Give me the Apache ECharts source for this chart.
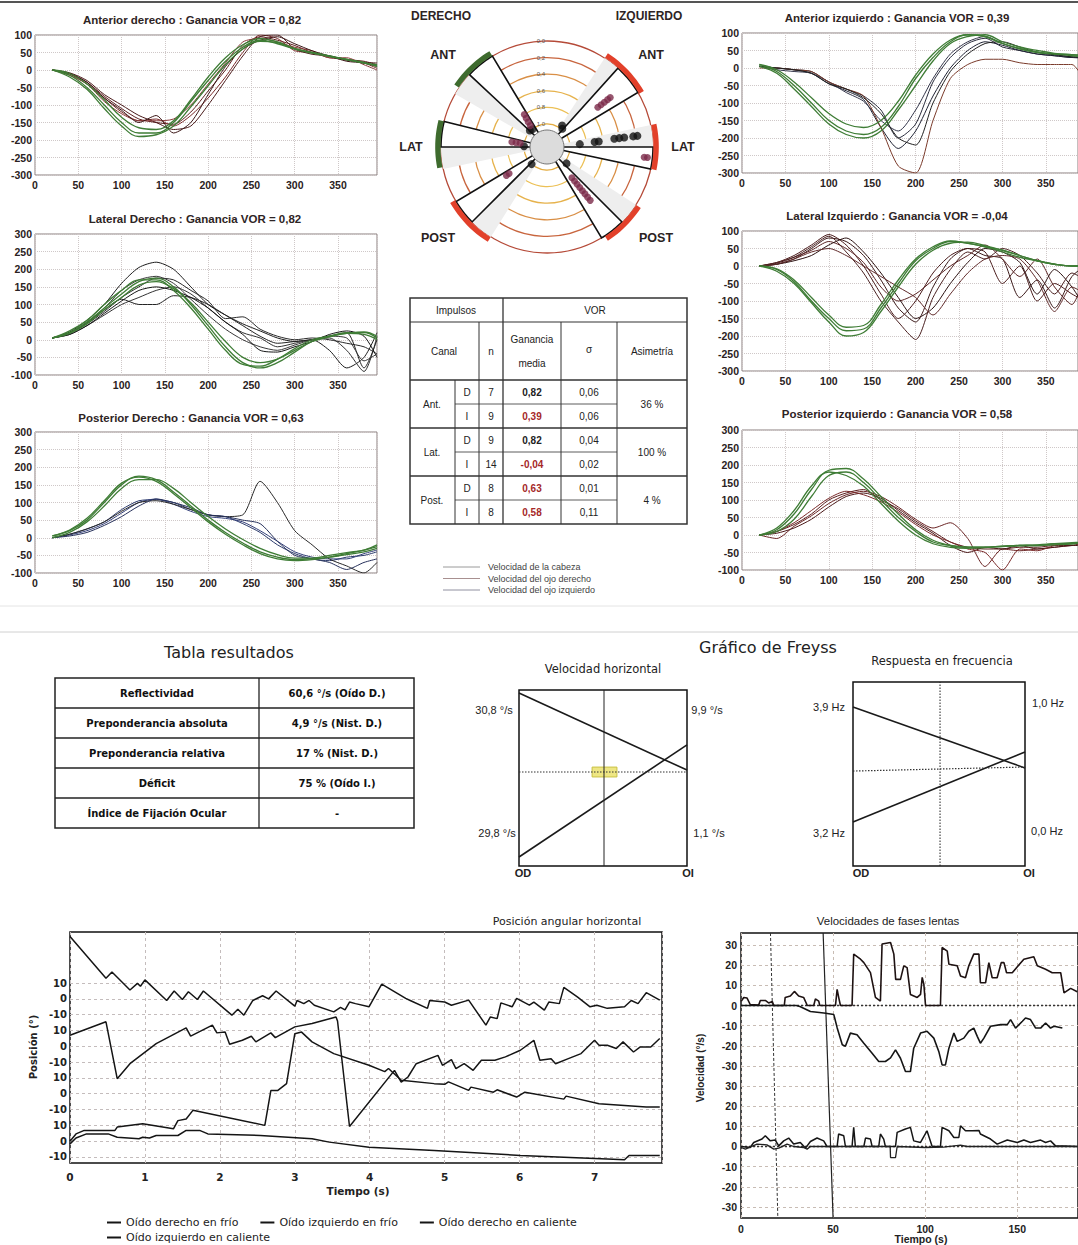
<!DOCTYPE html>
<html><head><meta charset="utf-8">
<script src="https://cdn.jsdelivr.net/npm/echarts@6/dist/echarts.min.js"></script>
<style>html,body{margin:0;padding:0;background:#fff}#c{width:1078px;height:1245px}</style>
</head><body><div id="c"></div><script>
// ---------------- DATA ----------------
const TX = [20,40,60,80,100,120,140,160,180,200,220,240,260,280,300,320,340,360,380,395];

const A_head = [
 [0,-15,-50,-100,-150,-180,-180,-150,-90,-30,25,65,85,75,60,50,40,30,20,15],
 [0,-10,-40,-85,-135,-165,-170,-145,-85,-20,35,72,90,80,62,50,40,30,22,10],
 [0,-20,-55,-110,-160,-190,-185,-160,-105,-45,15,60,82,78,60,48,38,30,20,12]];
const A_eye = [
 [0,-10,-35,-75,-110,-140,-150,-155,-120,-60,0,70,95,85,70,50,40,30,25,15],
 [0,-12,-40,-80,-120,-145,-140,-160,-130,-80,-20,50,100,90,55,50,35,30,20,5],
 [0,-8,-30,-70,-100,-130,-150,-170,-160,-100,-30,40,95,100,60,45,40,28,22,20],
 [0,-15,-40,-90,-125,-145,-145,-140,-100,-40,20,80,90,80,65,55,35,35,15,0],
 [0,-10,-35,-80,-115,-150,-130,-180,-150,-70,10,60,85,95,75,55,40,25,20,10]];

const B_head = [
 [5,20,50,90,130,165,175,150,100,40,-20,-65,-80,-65,-35,-5,10,20,20,5],
 [5,25,55,100,140,170,170,140,90,30,-30,-70,-75,-55,-25,0,10,18,22,10],
 [5,18,45,85,120,155,165,145,105,50,-5,-50,-65,-55,-30,-5,8,18,15,0]];
const B_eye = [
 [5,22,55,100,160,205,220,200,150,100,70,45,25,5,-5,0,-30,-80,-50,20],
 [5,20,45,80,120,150,175,170,140,110,60,65,30,10,0,5,0,-10,-20,-40],
 [5,15,40,70,100,120,140,150,130,90,50,20,5,-20,-10,0,5,-30,-90,10],
 [5,18,48,85,115,100,100,125,120,100,70,40,10,-10,-5,0,10,20,-80,0],
 [5,20,50,90,140,170,180,160,115,70,30,0,-20,-30,-15,0,10,5,-60,-40],
 [5,15,40,75,110,140,150,140,120,90,50,15,-30,-35,-20,-5,15,25,10,-50]];

const C_head = [
 [5,20,50,100,150,175,165,130,90,50,15,-15,-40,-55,-62,-60,-55,-45,-35,-25],
 [5,22,55,105,155,172,160,125,85,45,10,-20,-45,-60,-65,-62,-55,-48,-40,-30],
 [0,15,45,90,140,165,165,140,100,60,25,-5,-30,-48,-58,-58,-50,-42,-35,-20]];
const C_eye = [
 [0,10,25,45,80,105,108,100,80,65,60,40,15,-20,-45,-60,-65,-55,-50,-40],
 [0,8,20,40,70,100,110,95,75,60,55,45,20,-10,-40,-55,-60,-60,-45,-35],
 [0,10,25,45,75,100,105,95,80,65,60,65,160,100,20,-20,-60,-80,-100,-70],
 [0,5,15,35,60,90,110,100,85,65,60,50,40,-10,-50,-60,-70,-90,-70,-60]];

const D_head = [
 [10,-10,-50,-100,-150,-180,-190,-170,-110,-30,30,75,95,90,70,55,45,40,38,36],
 [10,-5,-40,-85,-130,-160,-170,-150,-95,-20,40,80,95,90,70,55,45,40,35,32],
 [5,-15,-60,-110,-160,-190,-200,-180,-120,-50,20,70,90,95,75,60,50,42,38,35]];
const D_eye = [
 [5,0,-5,-10,-40,-60,-80,-120,-200,-160,-40,30,70,85,60,50,40,35,30,28],
 [5,0,-5,-15,-45,-65,-90,-170,-230,-180,-80,0,50,75,65,50,40,35,30,30],
 [5,-5,-10,-15,-40,-70,-95,-150,-180,-120,-30,40,75,90,70,55,45,38,32,30],
 [0,0,-5,-10,-40,-60,-80,-170,-280,-300,-150,-30,10,25,25,15,10,10,10,-40],
 [5,0,-5,-15,-45,-60,-85,-130,-200,-220,-100,-10,40,70,75,60,45,38,32,30]];

const E_head = [
 [0,-10,-45,-100,-150,-185,-180,-120,-50,15,50,70,65,55,45,30,15,5,0,0],
 [0,-15,-50,-105,-160,-200,-190,-130,-60,5,45,65,68,58,45,30,15,5,0,0],
 [0,-8,-40,-90,-140,-175,-170,-110,-40,20,55,72,65,55,40,25,15,5,0,0]];
const E_eye = [
 [0,10,30,60,90,60,0,-80,-150,-100,-20,30,50,40,-50,0,-100,-50,-80,-100],
 [0,5,20,50,80,70,30,-40,-120,-160,-60,20,50,30,20,-90,-40,-120,-30,0],
 [0,10,25,45,70,50,10,-60,-100,-80,-40,0,30,60,20,-30,20,-60,-110,-20],
 [0,5,15,30,60,80,40,-20,-90,-150,-120,-50,10,50,40,10,-80,-10,-60,-120],
 [0,8,25,55,85,40,-20,-100,-160,-210,-90,-10,40,20,50,30,-20,-80,-20,-40],
 [0,5,20,40,50,30,0,-30,-60,-90,-140,-80,-20,20,30,20,-40,-130,-60,-80]];

const F_head = [
 [0,15,60,130,185,190,160,110,60,15,-15,-30,-35,-35,-32,-30,-30,-25,-25,-22],
 [0,10,45,110,170,180,150,100,50,10,-20,-30,-35,-35,-32,-30,-28,-25,-22,-20],
 [0,20,70,140,180,170,140,90,40,0,-25,-35,-38,-36,-33,-30,-30,-28,-25,-20]];
const F_eye = [
 [0,10,30,60,100,120,130,100,75,40,10,-20,-35,-40,-40,-35,-35,-30,-30,-20],
 [0,-10,25,55,90,115,125,110,80,45,20,35,-10,-90,-40,-45,-40,-35,-30,-25],
 [0,5,20,45,80,110,120,105,70,35,5,-30,-50,-35,-40,-30,-40,-35,-30,-30],
 [0,10,35,70,105,125,115,95,65,30,0,-20,-40,-50,-100,-40,-45,-30,-25,-20]];

// polar (math degrees, counter-clockwise from +x ; gain 0..1)
const wedgeDeg = [[121,137],[166,180],[211,225],[31,48],[-12,0],[-59,-45]];
const shadeDeg = [[137,150],[180,192],[225,238],[48,57],[0,12],[-45,-33]];
const arcDeg   = [[121,146],[166,191],[210,238],[30,57],[-12,12],[-57,-33]];
const arcOk    = [true,true,false,false,false,false];
const blackDots = [[1.0,130],[0.99,136],[1.0,178],[1.0,228],[0.99,50],[0.96,55],[0.97,-40],
  [0.88,5],[0.70,6],[0.65,6],[0.46,7],[0.40,7],[0.34,7],[0.23,7],[0.18,7]];
const purpleDots = [[0.95,128],[0.9,127],[0.85,126],[0.8,125],[0.95,172],[0.9,172],[0.85,172],
  [0.72,215],[0.68,215],[0.5,38],[0.45,38],[0.4,38],[0.35,38],[0.31,38],[0.1,-6],[0.06,-6],
  [0.8,-51],[0.75,-51],[0.7,-51],[0.65,-51],[0.6,-51],[0.55,-51],[0.5,-51],[0.45,-51]];

// VOR table
const vorCanal = ['Ant.','Lat.','Post.'];
const vorSide = ['D','I','D','I','D','I'];
const vorN = ['7','9','9','14','8','8'];
const vorGain = ['0,82','0,39','0,82','-0,04','0,63','0,58'];
const vorGainRed = [false,true,false,true,true,true];
const vorSigma = ['0,06','0,06','0,04','0,02','0,01','0,11'];
const vorAsym = ['36 %','100 %','4 %'];
const legendTop = ['Velocidad de la cabeza','Velocidad del ojo derecho','Velocidad del ojo izquierdo'];

// results table
const resLabels = ['Reflectividad','Preponderancia absoluta','Preponderancia relativa','Déficit','Índice de Fijación Ocular'];
const resValues = ['60,6 °/s (Oído D.)','4,9 °/s (Nist. D.)','17 % (Nist. D.)','75 % (Oído I.)','-'];

// Freyss
const frVelLine1 = [[0,98.3],[1,54.5]];
const frVelLine2 = [[0,5.1],[1,68.8]];
const frVelMid = 53.4;
const frVelLabels = ['30,8 °/s','29,8 °/s','9,9 °/s','1,1 °/s'];
const frFreqLine1 = [[0,86.4],[1,53.3]];
const frFreqLine2 = [[0,23.9],[1,62]];
const frFreqMid = [[0,51.6],[1,53.8]];
const frFreqLabels = ['3,9 Hz','3,2 Hz','1,0 Hz','0,0 Hz'];

// Posición angular horizontal (t [s], position [deg]) ; bands offset for display
const posNames = ['Oído derecho en frío','Oído izquierdo en frío','Oído derecho en caliente','Oído izquierdo en caliente'];
const posODF = [[0,39.4],[0.48,13],[0.56,17],[0.8,5.6],[0.9,9.8],[0.94,8],[1.0,12],[1.29,-1],[1.39,5],[1.5,-0.4],[1.58,4.5],[1.7,-0.4],[1.78,5],[2.16,-10.3],[2.24,-6.5],[2.32,-10.3],[2.44,-1],[2.57,2],[2.65,0],[2.75,5],[3.0,-4.6],[3.03,-1],[3.12,-3],[3.19,-1],[3.26,-4],[3.52,-8.2],[3.61,-5.4],[3.67,-7],[3.73,-2],[3.81,-3],[3.99,-5],[4.16,9.4],[4.48,0.3],[4.54,-1],[4.77,-6],[4.8,-1],[5.0,-2],[5.09,-4],[5.32,-0.8],[5.55,-16.6],[5.61,-11.4],[5.7,-12.5],[5.75,-2.5],[5.9,-5],[5.96,0.3],[6.13,-4],[6.19,-2],[6.33,-7.1],[6.39,-2],[6.53,-3],[6.59,7.3],[6.77,1.3],[6.94,-5],[7.03,-4],[7.17,-6],[7.4,-5],[7.49,-1],[7.58,-3],[7.69,3.9],[7.87,-0.8]];
const posOIF = [[0,7],[0.48,15.5],[0.63,-20.5],[0.8,-11],[1.15,1.7],[1.55,11.7],[1.61,6.4],[1.9,13.4],[1.96,8.5],[2.07,9],[2.13,1.3],[2.3,3.8],[2.42,6.4],[2.48,2.8],[2.68,8.5],[2.74,5.5],[3.0,12.3],[3.23,14.4],[3.55,18.6],[3.57,16],[3.73,-50.7],[4.33,-15.2],[4.42,-22.6],[4.51,-19.4],[4.62,-11],[4.91,-5.7],[4.97,-12],[5.09,-8.4],[5.15,-14.1],[5.26,-11],[5.38,-15.2],[5.49,-8.8],[5.67,-8.8],[5.81,-6.7],[6.01,-2.5],[6.19,3.8],[6.27,-8.8],[6.42,-7.8],[6.48,-11],[6.65,-7.8],[6.82,-4.6],[7.0,3.8],[7.06,0.7],[7.17,0.7],[7.29,-1.4],[7.38,2.8],[7.52,-3.6],[7.61,-0.4],[7.75,-0.4],[7.87,4.9]];
const posODC = [[0,-30],[0.08,-25.4],[0.19,-23.2],[0.6,-23.2],[0.63,-21.1],[0.97,-19],[1.38,-22.2],[1.44,-17],[1.55,-16],[1.64,-10.5],[2.6,-20],[2.68,2],[2.77,2],[2.89,6.4],[3.0,38],[3.09,39],[3.23,32.8],[3.52,25.4],[3.99,18],[4.2,14],[4.25,16],[4.42,8.5],[4.86,6.4],[5.0,6],[5.05,7.5],[5.32,2.1],[5.35,4.2],[5.65,1],[5.7,2.5],[5.96,-2.1],[6.07,1],[6.59,-3.4],[6.62,-1.5],[7.06,-6.3],[7.69,-8.4],[7.87,-8.4]];
const posOIC = [[0,-1.7],[0.08,2],[0.22,4.6],[0.51,4.6],[0.63,2.5],[0.92,1.5],[0.97,2.5],[1.06,2],[1.15,3.6],[1.44,3.6],[1.55,6.8],[1.73,6.8],[1.84,4.6],[2.54,3.6],[3.23,1.5],[3.46,-0.6],[3.99,-3.8],[4.86,-5.9],[6.01,-9],[7.17,-11.2],[7.4,-11.8],[7.46,-9],[7.87,-9]];
const posTicks = [-10,0,10,20,30,40,50,60,70,80,90,100];

// Velocidades de fases lentas (t [s], v [deg/s])
const velTopPos = [[0,2],[1.5,4],[3.3,3.7],[5,0.5],[9.6,0.2],[10.5,2.5],[13.2,2.5],[15,1.3],[17,2],[17.8,0],[23.5,0],[24,4],[26.8,4.7],[29,7],[31.3,4.7],[34,4],[36,0],[39.5,0],[40.4,3.3],[42.2,2.2],[42.8,0],[51.3,0],[52.2,8],[53.1,3.8],[54,0],[60.3,0],[61.2,25.5],[64.9,23],[66.7,21.3],[70.3,16.3],[73,4],[75.7,2.2],[76.6,30.5],[81.2,31.3],[83,25.5],[84,13],[86.6,13],[88.4,19.7],[90.2,18.8],[92,5.5],[95.7,4],[97.5,5.5],[98.4,14],[99.3,10.5],[100.2,0],[108.3,0],[109.2,28.8],[112,27],[112.9,20.5],[117.4,19.7],[119.2,14.7],[121.9,13.8],[123.7,19.7],[126.4,25.5],[129.2,25.5],[130,11.3],[132.8,11.3],[134.6,21.3],[136.4,13.8],[139.1,13.8],[141.3,21.3],[142.8,21.3],[144.2,16.3],[147.3,16.3],[153.6,23],[159,24.2],[160.9,19.7],[165.4,18],[169,16.3],[173.6,16.3],[175.4,6.3],[179,8.5],[182.6,6.8]];
const velTopNeg = [[0,0],[30,0],[32,-0.5],[37.7,-3],[45,-3.7],[50.4,-4.5],[52.2,-11],[55,-19.5],[56.7,-20.2],[59.4,-13.7],[63,-14.5],[66.7,-18.7],[71.2,-23.7],[74.8,-27.8],[78.4,-27.8],[81.2,-26],[83.9,-22],[86.6,-26.2],[89.3,-32.8],[92,-32.8],[93.8,-21.2],[97.5,-13.7],[101,-12.8],[104.7,-16.2],[107.4,-22.8],[109.2,-29.5],[111,-29.5],[112.9,-21.2],[115.6,-13.7],[117.4,-17.8],[121,-16.2],[123.7,-12.8],[126.4,-11.2],[128.3,-15.3],[130,-18.7],[131.9,-16.2],[135.5,-10.3],[141,-9.5],[144.6,-9.5],[146.4,-7],[149.1,-11.2],[152.8,-7.8],[154.5,-6.2],[157.2,-7],[160,-11.2],[162.7,-11.2],[165.4,-8.7],[168.1,-11.2],[170,-10.3],[174.5,-11.2]];
const velBotA = [[0,0],[5,-0.5],[6.9,2],[11.4,3.7],[13.2,5.3],[15.9,2.8],[18.6,3.2],[20.5,0.3],[23.2,2.8],[25.9,4.2],[28.6,1.2],[32.2,2],[35,-0.8],[37.7,2.5],[41.3,4.2],[44.9,2.8],[46.7,0],[52.2,0],[53,6.2],[55.8,5.3],[56.7,0],[60.3,0],[61.2,9.5],[62.1,0],[66.7,0],[67.6,4.2],[70.3,3.7],[71.2,0],[74.8,0],[75.7,6.2],[77.5,3.7],[78.4,0],[83.9,0],[84.8,7],[89.3,8.7],[92,9.5],[93.8,2.8],[97.5,2],[101,7.8],[103.8,0],[108.3,0],[109.2,9.5],[112.9,7.8],[115.6,4.5],[118.3,4.5],[119.2,10.3],[121.9,7.8],[125.5,7.8],[129.2,8],[130,6.2],[135.5,3.7],[139.1,1.2],[144.6,3.2],[150,2],[153.6,3.2],[157.2,2],[162.7,3.2],[165.4,2],[168.1,2.8],[170.8,0.3],[175.4,0.3],[182.6,0]];
const velBotB = [[0,-0.5],[2.4,-1.3],[8.7,1.2],[14.1,0.8],[17.8,-1.3],[20.5,-0.8],[25,1.2],[28.6,0],[34,-0.5],[35.9,-1.3],[37.7,0],[81,0],[81.2,-5.5],[83.9,-5.5],[84.8,0],[100,-0.5],[110,-0.3],[119.2,0.7],[122.8,0],[182.6,0]];
const velMarkA = [[16,106],[20,-35.5]];
const velMarkB = [[44.6,106],[50,-35.5]];
const velTicks = [-30,-20,-10,0,10,20,30,40,50,60,70,80,90,100];

// ---------------- BUILD ----------------
const grids=[], xAxes=[], yAxes=[], series=[], graphics=[];
const FF = '"Liberation Sans", Arial, sans-serif';
const FV = '"DejaVu Sans", Verdana, sans-serif';
function addGrid(g, xa, ya){
  const i = grids.length;
  grids.push(g);
  xAxes.push(Object.assign({gridIndex:i}, xa));
  yAxes.push(Object.assign({gridIndex:i}, ya));
  return i;
}
function txt(x, y, s, opt){
  opt = opt || {};
  graphics.push({type:'text', x:x, y:y, rotation: opt.rotation||0, silent:true, z:100,
    style:{text:s, fill: opt.color||'#222', font: opt.font || ('11px '+FF),
      textAlign: opt.align||'center', textVerticalAlign:'middle', align: opt.align||'center', verticalAlign:'middle'}});
}
function ln(x1,y1,x2,y2,w,c){
  graphics.push({type:'line', silent:true, z:90, shape:{x1,y1,x2,y2}, style:{stroke:c||'#333', lineWidth:w||1}});
}
const zip = arr => TX.map((x,i)=>[x, arr[i]]);

const GREEN = '#3f7d36';
const topCharts = [
 {t:'Anterior derecho : Ganancia VOR = 0,82', tx:192, ty:20, g:{left:35, top:35, width:342, height:140}, ymin:-300, ymax:100, xmax:395, h:A_head, e:A_eye, ec:['#5c1e1e','#7a2a2a','#4a1a1a','#8a3a3a','#3a1515']},
 {t:'Lateral Derecho : Ganancia VOR = 0,82', tx:195, ty:219, g:{left:35, top:234, width:342, height:141}, ymin:-100, ymax:300, xmax:395, h:B_head, e:B_eye, ec:['#1c1c1c','#2a2a2a','#333','#242424','#3a3a3a','#151515']},
 {t:'Posterior Derecho : Ganancia VOR = 0,63', tx:191, ty:418, g:{left:35, top:432, width:342, height:141}, ymin:-100, ymax:300, xmax:395, h:C_head, e:C_eye, ec:['#2b3a6b','#34407a','#2a2a2a','#26305a']},
 {t:'Anterior izquierdo : Ganancia VOR = 0,39', tx:897, ty:18, g:{left:742, top:33, width:336, height:140}, ymin:-300, ymax:100, xmax:387, h:D_head, e:D_eye, ec:['#2a2c3c','#1f2233','#34364a','#7a3a2a','#202020']},
 {t:'Lateral Izquierdo : Ganancia VOR = -0,04', tx:897, ty:216, g:{left:742, top:231, width:336, height:140}, ymin:-300, ymax:100, xmax:387, h:E_head, e:E_eye, ec:['#4a1c1c','#3a1818','#5a2424','#2a1010','#4a2020','#602a2a']},
 {t:'Posterior izquierdo : Ganancia VOR = 0,58', tx:897, ty:414, g:{left:742, top:430, width:336, height:140}, ymin:-100, ymax:300, xmax:387, h:F_head, e:F_eye, ec:['#5a1e1e','#6a2424','#4a1818','#7a2a2a']}
];
topCharts.forEach(c=>{
  const gi = addGrid(Object.assign({show:true, borderColor:'#8a7f7f', borderWidth:1, backgroundColor:'#fff'}, c.g),
    {type:'value', min:0, max:c.xmax, interval:50, axisLine:{show:false}, axisTick:{show:false},
     axisLabel:{fontSize:10.5, fontWeight:'bold', color:'#2a2222', margin:4, fontFamily:FF, showMaxLabel:false},
     splitLine:{lineStyle:{type:'dotted', color:'#cfc8c8'}}},
    {type:'value', min:c.ymin, max:c.ymax, interval:50, axisLine:{show:false}, axisTick:{show:false},
     axisLabel:{fontSize:10.5, fontWeight:'bold', color:'#2a2222', margin:3, fontFamily:FF},
     splitLine:{lineStyle:{type:'dotted', color:'#cfc8c8'}}});
  c.e.forEach((arr,k)=>series.push({type:'line', xAxisIndex:gi, yAxisIndex:gi, data:zip(arr), showSymbol:false, smooth:0.25, silent:true,
     lineStyle:{width:1, color:c.ec[k%c.ec.length]}, z:2}));
  c.h.forEach(arr=>series.push({type:'line', xAxisIndex:gi, yAxisIndex:gi, data:zip(arr), showSymbol:false, smooth:0.4, silent:true,
     lineStyle:{width:1.3, color:GREEN}, z:3}));
  txt(c.tx, c.ty, c.t, {font:'bold 11.5px '+FF, color:'#2e2424'});
});

// ---- Polar
const toAng = th => ((th-90)%360+360)%360;
const CENTER = 9; // sentinel: inner edge at the polar centre
function polyRender(params, api){
  const cs = params.coordSys;
  const gOut = api.value(0), a1 = api.value(1), a2 = api.value(2), gIn = api.value(3);
  const pts = [];
  const N = 12;
  for(let k=0;k<=N;k++){ pts.push(api.coord([gOut, a1+(a2-a1)*k/N])); }
  if (gIn === CENTER) { pts.push([cs.cx, cs.cy]); }
  else { for(let k=N;k>=0;k--){ pts.push(api.coord([gIn, a1+(a2-a1)*k/N])); } }
  const kind = api.value(4);
  const styles = [
    {fill:'#ffffff', stroke:'#111', lineWidth:1.6},
    {fill:'#eeeeee', stroke:null, lineWidth:0},
    {fill:'#3e6b2e', stroke:null, lineWidth:0},
    {fill:'#e2402a', stroke:null, lineWidth:0}];
  return {type:'polygon', shape:{points:pts}, style:styles[kind]};
}
const shadeData = shadeDeg.map(d=>[0, toAng(d[0]), toAng(d[1]), CENTER, 1]);
const wedgeData = wedgeDeg.map(d=>[0, toAng(d[0]), toAng(d[1]), CENTER, 0]);
const arcData = arcDeg.map((d,i)=>[-0.07, toAng(d[0]), toAng(d[1]), -0.005, arcOk[i]?2:3]);
[shadeData, wedgeData, arcData].forEach((dat,i)=>{
  series.push({type:'custom', coordinateSystem:'polar', silent:true, renderItem:polyRender, data:dat, z:2+i});
});
series.push({type:'pie', center:[547,147], radius:[0,17], silent:true, label:{show:false}, z:6,
  data:[{value:1, itemStyle:{color:'#dcdcdc', borderColor:'#777', borderWidth:1}}]});
series.push({type:'scatter', coordinateSystem:'polar', silent:true, symbolSize:8, z:7,
  itemStyle:{color:'#111'}, data:blackDots.map(d=>[d[0], toAng(d[1])])});
series.push({type:'scatter', coordinateSystem:'polar', silent:true, symbolSize:7, z:7,
  itemStyle:{color:'#7c2a4a'}, data:purpleDots.map(d=>[d[0], toAng(d[1])])});

[['DERECHO',441,16],['IZQUIERDO',649,16]].forEach(a=>txt(a[1],a[2],a[0],{font:'bold 12px '+FF, color:'#2e2424'}));
[['ANT',443,55],['ANT',651,55],['LAT',411,147],['LAT',683,147],['POST',438,238],['POST',656,238]].forEach(a=>txt(a[1],a[2],a[0],{font:'bold 12.5px '+FF, color:'#2a2222'}));

// ---- VOR table
const T0 = 298, H1 = 322, H2 = 380, RH = 24;
graphics.push({type:'rect', silent:true, z:90, shape:{x:410,y:T0,width:277,height:H2+6*RH-T0}, style:{fill:'none', stroke:'#333', lineWidth:1.5}});
ln(410,H1,687,H1,1.2); ln(410,H2,687,H2,1.5);
ln(410,H2+2*RH,687,H2+2*RH,1.3); ln(410,H2+4*RH,687,H2+4*RH,1.3);
[1,3,5].forEach(r=>ln(455,H2+r*RH,617,H2+r*RH,0.8));
ln(503,T0,503,H2+6*RH,1.3); ln(455,H2,455,H2+6*RH,1); ln(479,H1,479,H2+6*RH,1);
ln(561,H1,561,H2+6*RH,1); ln(617,H1,617,H2+6*RH,1);
const tf = '10px '+FF;
txt(456,310,'Impulsos',{font:tf}); txt(595,310,'VOR',{font:tf});
txt(444,351,'Canal',{font:tf}); txt(491,351,'n',{font:tf});
txt(532,339,'Ganancia',{font:tf}); txt(532,363,'media',{font:tf});
txt(589,349,'σ',{font:tf}); txt(652,351,'Asimetría',{font:tf});
vorCanal.forEach((c,g)=>{ txt(432,H2+g*2*RH+RH,c,{font:tf}); txt(652,H2+g*2*RH+RH,vorAsym[g],{font:tf}); });
vorSide.forEach((s,r)=>{
  const y = H2+r*RH+RH/2;
  txt(467,y,s,{font:tf}); txt(491,y,vorN[r],{font:tf});
  txt(532,y,vorGain[r],{font:'bold 10px '+FF, color: vorGainRed[r]?'#a52828':'#222'});
  txt(589,y,vorSigma[r],{font:tf});
});
legendTop.forEach((s,i)=>{
  const y = 567+i*11.5;
  ln(443,y,480,y,1,['#9a9a9a','#a89090','#9090a0'][i]);
  txt(488,y,s,{font:'9px '+FF, color:'#444', align:'left'});
});

// section borders
ln(0,2,1078,2,2,'#555');
ln(0,606,1078,606,1,'#e4e4e4');
ln(0,632,1078,632,1,'#d0d0d0');

// ---- Results table
txt(229,652,'Tabla resultados',{font:'16px '+FV, color:'#222'});
const rT = 678, rH = 30;
graphics.push({type:'rect', silent:true, z:90, shape:{x:55,y:rT,width:359,height:5*rH}, style:{fill:'none', stroke:'#222', lineWidth:1.5}});
for(let r=1;r<5;r++) ln(55,rT+r*rH,414,rT+r*rH,1.3,'#222');
ln(259,rT,259,rT+5*rH,1.3,'#222');
resLabels.forEach((s,r)=>{
  txt(157,rT+r*rH+rH/2,s,{font:'bold 10px '+FV, color:'#111'});
  txt(337,rT+r*rH+rH/2,resValues[r],{font:'bold 10px '+FV, color:'#111'});
});

// ---- Freyss
txt(768,647,'Gráfico de Freyss',{font:'16px '+FV, color:'#222'});
function freyss(g, l1, l2, mid, midSolidV, title, tpos, labels, lpos, odoi){
  const gi = addGrid(Object.assign({show:true, borderColor:'#111', borderWidth:1.5, backgroundColor:'#fff'}, g),
    {type:'value', min:0, max:1, show:false}, {type:'value', min:0, max:100, show:false});
  const base = {type:'line', xAxisIndex:gi, yAxisIndex:gi, showSymbol:false, silent:true};
  series.push(Object.assign({}, base, {data:l1, lineStyle:{width:1.6, color:'#1a1a1a'}}));
  series.push(Object.assign({}, base, {data:l2, lineStyle:{width:1.6, color:'#1a1a1a'}}));
  series.push(Object.assign({}, base, {data:mid, lineStyle:{width:1.2, color:'#333', type:[1.5,1.5]},
    markArea: midSolidV ? {silent:true, itemStyle:{color:'rgba(232,222,90,0.75)', borderColor:'#c9c040', borderWidth:1},
      data:[[{coord:[0.435,50.6]},{coord:[0.583,56.2]}]]} : undefined}));
  series.push(Object.assign({}, base, {data:[[0.506,0],[0.506,100]], lineStyle:{width:1, color:'#222', type: midSolidV?'solid':[1.5,1.5]}}));
  txt(tpos[0],tpos[1],title,{font:'11.5px '+FV, color:'#222'});
  labels.forEach((s,i)=>txt(lpos[i][0],lpos[i][1],s,{font:'11px '+FF, color:'#222'}));
  txt(odoi[0][0],odoi[0][1],'OD',{font:'bold 11px '+FF}); txt(odoi[1][0],odoi[1][1],'OI',{font:'bold 11px '+FF});
}
freyss({left:519, top:690, width:168, height:176}, frVelLine1, frVelLine2, [[0,frVelMid],[1,frVelMid]], true,
  'Velocidad horizontal', [603,669], frVelLabels, [[494,710],[497,833],[707,710],[709,833]], [[523,873],[688,873]]);
freyss({left:853, top:682, width:172, height:184}, frFreqLine1, frFreqLine2, frFreqMid, false,
  'Respuesta en frecuencia', [942,661], frFreqLabels, [[829,707],[829,833],[1048,703],[1047,831]], [[861,873],[1029,873]]);

// ---- Posición angular horizontal
const posOffsets = [90,60,30,0];
const posFmt = v => String((((v+10)%30)+30)%30-10);
const gP = addGrid({left:70, top:932, width:592, height:231, show:true, borderColor:'#111', borderWidth:1.5, backgroundColor:'#fff'},
  {type:'value', min:0, max:7.9, interval:1, axisLine:{show:false}, axisTick:{show:false},
   axisLabel:{fontSize:10.5, fontWeight:'bold', color:'#222', margin:8, fontFamily:FV, showMaxLabel:false},
   splitLine:{lineStyle:{type:[3,3], color:'#c4bcbc'}}},
  {type:'value', min:-13.8, max:132.3, axisLine:{show:false},
   axisTick:{show:false, customValues:posTicks},
   axisLabel:{customValues:posTicks, formatter:posFmt, fontSize:10, fontWeight:'bold', color:'#222', margin:3, fontFamily:FV},
   splitLine:{lineStyle:{type:[3,3], color:'#c4bcbc'}}});
[posODF,posOIF,posODC,posOIC].forEach((arr,k)=>{
  series.push({type:'line', name:posNames[k], xAxisIndex:gP, yAxisIndex:gP, showSymbol:false, silent:true,
    data:arr.map(p=>[p[0], p[1]+posOffsets[k]]), lineStyle:{width:1.5, color:'#151515'}, itemStyle:{color:'#151515'}});
});
txt(567,921,'Posición angular horizontal',{font:'11px '+FV, color:'#222'});
txt(358,1191,'Tiempo (s)',{font:'bold 10.5px '+FV, color:'#222'});
txt(33,1047,'Posición (°)',{font:'bold 10px '+FV, color:'#222', rotation:Math.PI/2});

// ---- Velocidades de fases lentas
const velFmt = v => String(v>=40 ? v-70 : v);
const gV = addGrid({left:741, top:933, width:337, height:285, show:true, borderColor:'#111', borderWidth:1.5, backgroundColor:'#fff'},
  {type:'value', min:0, max:183, interval:50, axisLine:{show:false}, axisTick:{show:false},
   axisLabel:{fontSize:10.5, fontWeight:'bold', color:'#222', margin:5, fontFamily:FF, showMaxLabel:false},
   splitLine:{lineStyle:{type:[3,3], color:'#c8bcb4'}}},
  {type:'value', min:-35.5, max:106, axisLine:{show:false},
   axisTick:{show:false, customValues:velTicks},
   axisLabel:{customValues:velTicks, formatter:velFmt, fontSize:10.5, fontWeight:'bold', color:'#222', margin:4, fontFamily:FF},
   splitLine:{lineStyle:{type:[3,3], color:'#c8bcb4'}}});
const vBase = {type:'line', xAxisIndex:gV, yAxisIndex:gV, showSymbol:false, silent:true};
series.push(Object.assign({}, vBase, {data:velMarkA, lineStyle:{width:1, color:'#333', type:[3,2]}}));
series.push(Object.assign({}, vBase, {data:velMarkB, lineStyle:{width:1.2, color:'#222'}}));
series.push(Object.assign({}, vBase, {data:[[0,70],[183,70]], lineStyle:{width:1.6, color:'#333', type:[2,2]}}));
series.push(Object.assign({}, vBase, {data:[[0,0],[183,0]], lineStyle:{width:1.6, color:'#333', type:[2,2]}}));
series.push(Object.assign({}, vBase, {data:velTopPos.map(p=>[p[0],p[1]+70]), lineStyle:{width:1.6, color:'#1e1212'}}));
series.push(Object.assign({}, vBase, {data:velTopNeg.map(p=>[p[0],p[1]+70]), lineStyle:{width:1.6, color:'#151515'}}));
series.push(Object.assign({}, vBase, {data:velBotA, lineStyle:{width:1.5, color:'#151515'}}));
series.push(Object.assign({}, vBase, {data:velBotB, lineStyle:{width:1.3, color:'#222'}}));
txt(888,921,'Velocidades de fases lentas',{font:'11.5px '+FF, color:'#222'});
txt(921,1239,'Tiempo (s)',{font:'bold 10.5px '+FF, color:'#222'});
txt(700,1068,'Velocidad (°/s)',{font:'bold 10px '+FF, color:'#222', rotation:Math.PI/2});

// ---------------- CHART ----------------
const legBase = {itemWidth:14, itemHeight:2, itemGap:22, icon:'rect', selectedMode:false,
  textStyle:{fontSize:11, fontFamily:FV, color:'#222'}};
const chart = echarts.init(document.getElementById('c'), null, {renderer:'svg', width:1078, height:1245});
chart.setOption({
  animation:false,
  backgroundColor:'#ffffff',
  grid:grids, xAxis:xAxes, yAxis:yAxes,
  polar:{center:[547,147], radius:[23,106]},
  angleAxis:{type:'value', min:0, max:360, startAngle:90, clockwise:false,
    axisLine:{show:false}, axisTick:{show:false}, axisLabel:{show:false}, splitLine:{show:false}},
  radiusAxis:{type:'value', min:0, max:1, interval:0.2, inverse:true,
    axisLine:{show:false}, axisTick:{show:false},
    axisLabel:{fontSize:6, color:'#555', margin:2, formatter:v=>v.toFixed(1).replace('.',','), fontFamily:FF},
    splitLine:{lineStyle:{width:1.3, color:['#b54a38','#c8653e','#d98f46','#e6b24c','#ecc056','#e4ad42']}}},
  legend:[
    Object.assign({data:posNames.slice(0,3), left:102, top:1212}, legBase),
    Object.assign({data:posNames.slice(3), left:102, top:1227}, legBase)],
  series:series,
  graphic:{elements:graphics}
});
</script></body></html>
